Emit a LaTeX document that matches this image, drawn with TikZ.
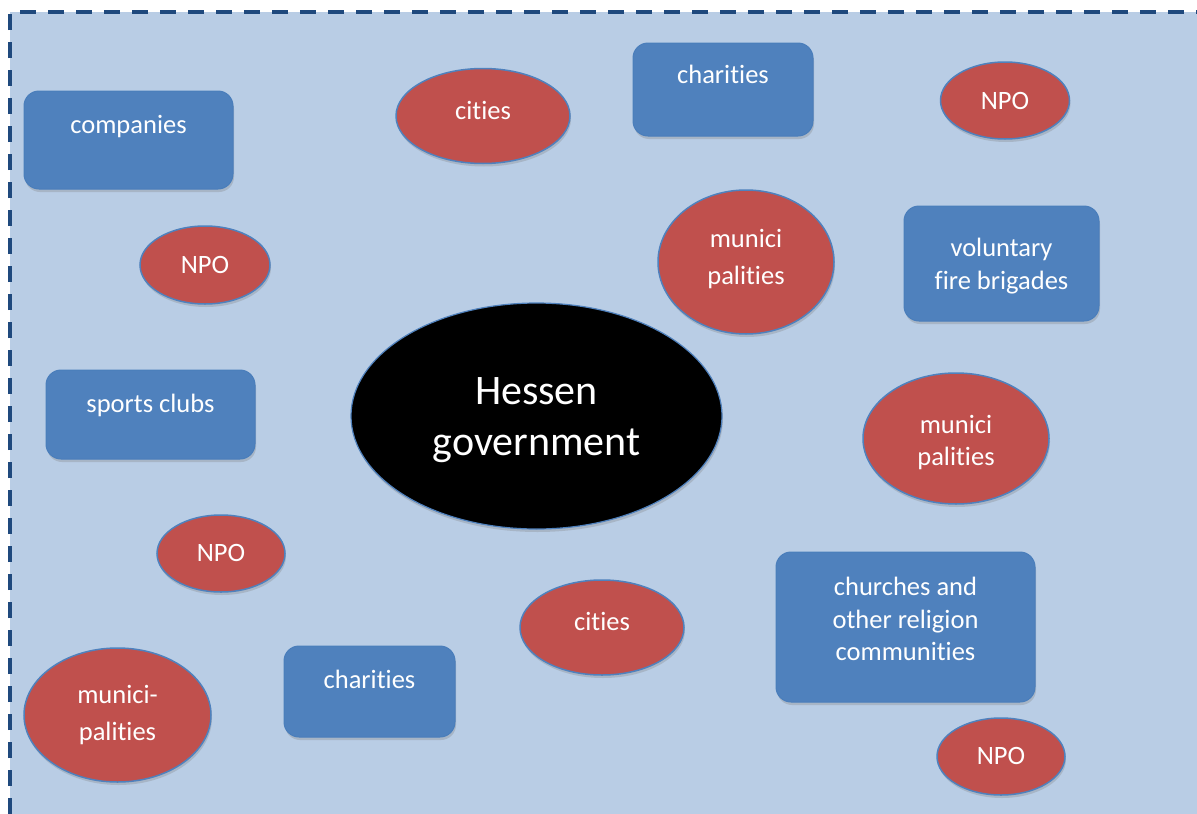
\documentclass[tikz,border=0pt]{standalone}
\usepackage{fontspec}
\setmainfont{Carlito}[RawFeature={-liga}]
\usetikzlibrary{shapes.geometric,shadows}
\definecolor{bgblue}{HTML}{B9CDE5}
\definecolor{boxblue}{HTML}{4F81BD}
\definecolor{edgeblue}{HTML}{4A7EBB}
\definecolor{ellred}{HTML}{C0504D}
\definecolor{dashblue}{HTML}{1F497D}
\tikzset{
  sh/.style={drop shadow={opacity=0.3,shadow xshift=1pt,shadow yshift=-3pt}},
  bbox/.style={rectangle,rounded corners=15pt,fill=boxblue,draw=edgeblue,line width=1pt,sh,inner sep=0pt},
  rell/.style={ellipse,fill=ellred,draw=boxblue,line width=1.5pt,sh,inner sep=0pt},
  lbl/.style={text=white,anchor=base,font=\fontsize{26.5}{33}\selectfont,inner sep=0pt},
  biglbl/.style={text=white,anchor=base,font=\fontsize{42}{51}\selectfont,inner sep=0pt},
}
\begin{document}
\begin{tikzpicture}[x=1pt,y=-1pt]
\useasboundingbox (0,0) rectangle (1197,814);
\fill[bgblue] (10,12) rectangle (1197,814);
\draw[dashblue,line width=3.5pt,dash pattern=on 16pt off 12pt] (10,814) -- (10,12) -- (1197,12);

% boxes
\node[bbox,minimum width=209pt,minimum height=98pt] (companies) at (128.5,140) {};
\node[lbl] at (128.5,133.3) {companies};
\node[bbox,minimum width=180pt,minimum height=93pt] (charT) at (723,89.5) {};
\node[lbl] at (723,83.3) {charities};
\node[bbox,minimum width=195pt,minimum height=115pt] (fire) at (1001.5,263.5) {};
\node[lbl] at (1001.5,256.7) {voluntary};
\node[lbl] at (1001.5,289.3) {fire brigades};
\node[bbox,minimum width=209pt,minimum height=89pt] (sports) at (150.5,414.5) {};
\node[lbl] at (150.5,412.3) {sports clubs};
\node[bbox,minimum width=259pt,minimum height=150pt] (churches) at (905.5,627) {};
\node[lbl] at (905.5,595) {churches and};
\node[lbl] at (905.5,628.3) {other religion};
\node[lbl] at (905.5,660.7) {communities};
\node[bbox,minimum width=171pt,minimum height=91pt] (charB) at (369.5,691.5) {};
\node[lbl] at (369.5,688.3) {charities};

% ellipses
\node[rell,minimum width=174pt,minimum height=95pt] (citiesT) at (483,116) {};
\node[lbl] at (483,119.3) {cities};
\node[rell,minimum width=129pt,minimum height=77pt] (npoTR) at (1005,100.5) {};
\node[lbl] at (1005,109.3) {NPO};
\node[rell,minimum width=130pt,minimum height=78pt] (npoL1) at (205,265) {};
\node[lbl] at (205,273.5) {NPO};
\node[rell,minimum width=176pt,minimum height=144pt] (munC) at (746,262) {};
\node[lbl] at (746,247.3) {munici};
\node[lbl] at (746,284) {palities};
\node[rell,minimum width=186pt,minimum height=131pt] (munR) at (956,438.5) {};
\node[lbl] at (956,433.3) {munici};
\node[lbl] at (956,465) {palities};
\node[rell,minimum width=128pt,minimum height=77pt] (npoL2) at (221,553.5) {};
\node[lbl] at (221,561.5) {NPO};
\node[rell,minimum width=164pt,minimum height=95pt] (citiesB) at (602,627.5) {};
\node[lbl] at (602,630) {cities};
\node[rell,minimum width=187pt,minimum height=134pt] (munBL) at (117.5,715) {};
\node[lbl] at (117.5,703.3) {munici-};
\node[lbl] at (117.5,740.7) {palities};
\node[rell,minimum width=128pt,minimum height=77pt] (npoBR) at (1001,756.5) {};
\node[lbl] at (1001,764.5) {NPO};

% centre
\node[ellipse,fill=black,draw=boxblue,line width=1.2pt,sh,inner sep=0pt,minimum width=371pt,minimum height=226pt] (hessen) at (536.5,416) {};
\node[biglbl] at (536.5,404.3) {Hessen};
\node[biglbl] at (536.5,455.7) {government};
\end{tikzpicture}
\end{document}
